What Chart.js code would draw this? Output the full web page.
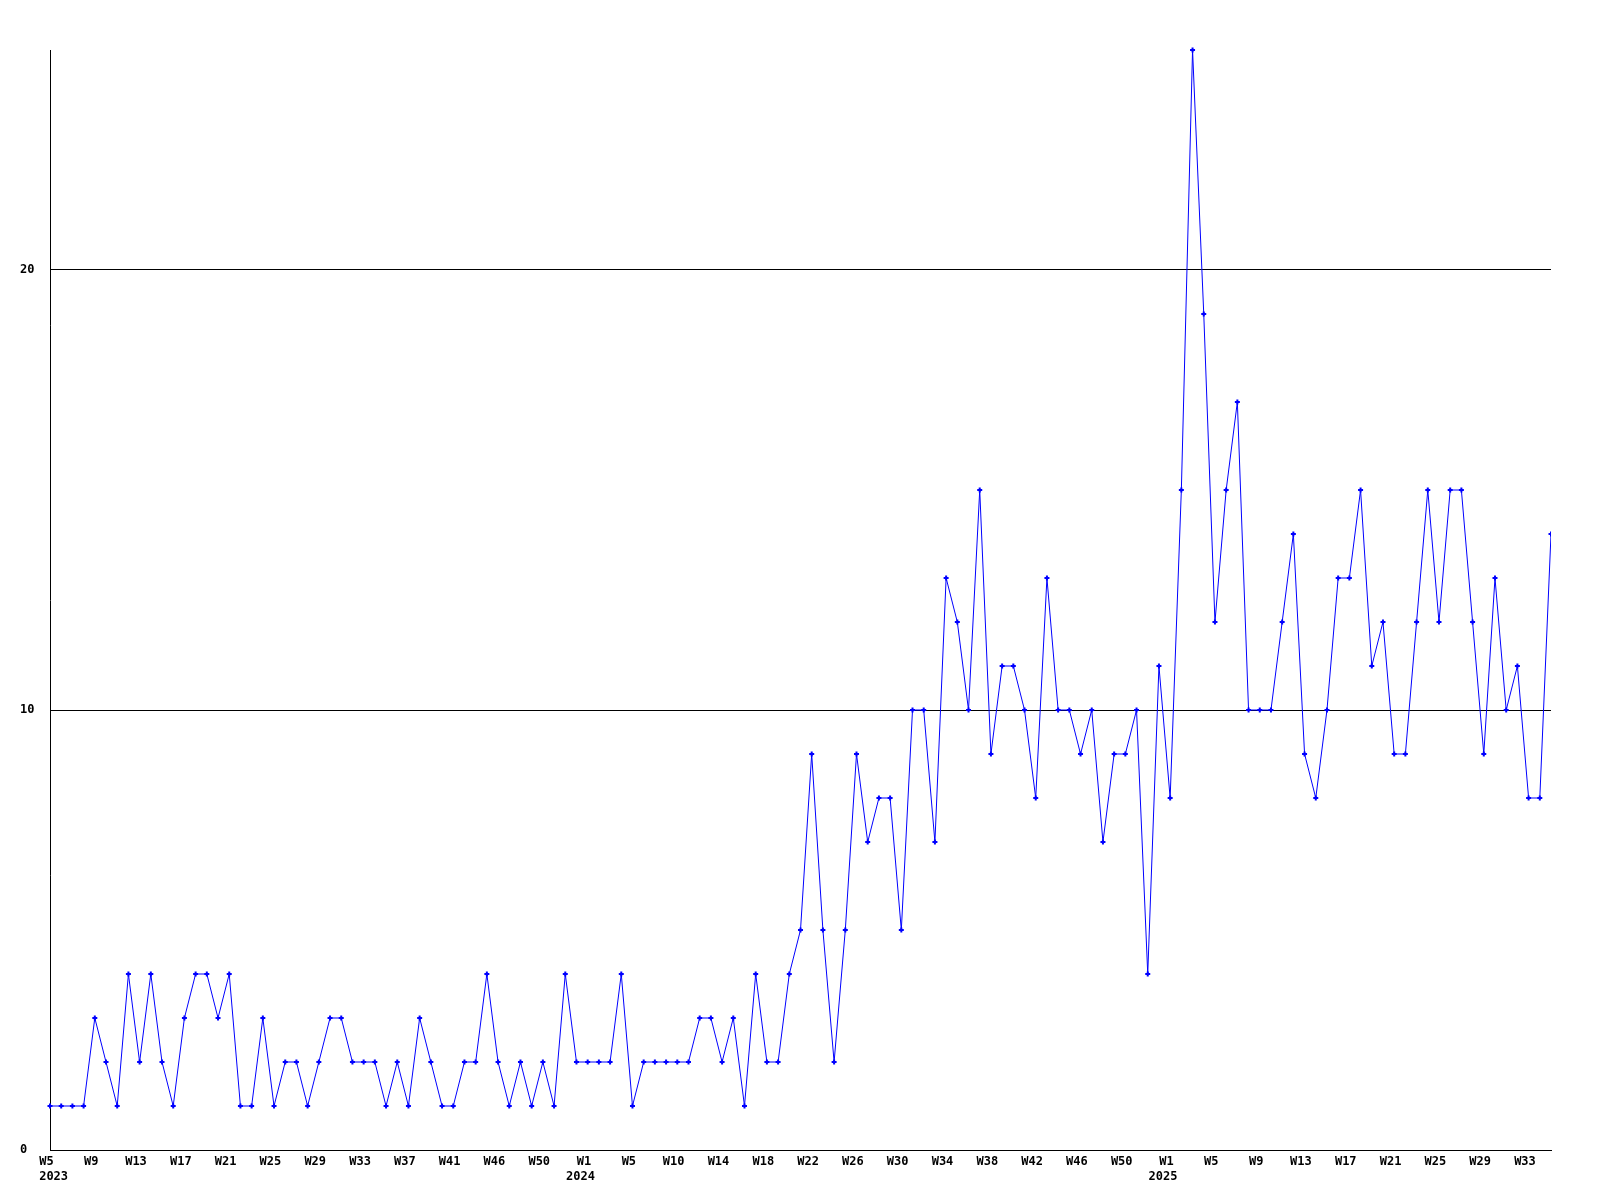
<!DOCTYPE html>
<html>
<head>
<meta charset="utf-8">
<script src="https://cdn.jsdelivr.net/npm/chart.js@4/dist/chart.umd.min.js"></script>
<style>
  html, body { margin: 0; padding: 0; background: #ffffff; }
  #weekChart { display: block; }
</style>
</head>
<body>
<canvas id="weekChart" width="1600" height="1200"></canvas>
<script>
// weekly counts, 2023 W5 .. 2025 W35
const counts2023 = [1, 1, 1, 1, 3, 2, 1, 4, 2, 4, 2, 1, 3, 4, 4, 3, 4, 1, 1, 3,
  1, 2, 2, 1, 2, 3, 3, 2, 2, 2, 1, 2, 1, 3, 2, 1, 1, 2, 2, 4,
  2, 1, 2, 1, 2, 1, 4, 2];
const counts2024 = [2, 2, 2, 4, 1, 2, 2, 2, 2, 2, 3, 3, 2, 3, 1, 4, 2, 2, 4, 5,
  9, 5, 2, 5, 9, 7, 8, 8, 5, 10, 10, 7, 13, 12, 10, 15, 9, 11, 11, 10,
  8, 13, 10, 10, 9, 10, 7, 9, 9, 10, 4, 11];
const counts2025 = [8, 15, 25, 19, 12, 15, 17, 10, 10, 10, 12, 14, 9, 8, 10, 13, 13, 15, 11, 12,
  9, 9, 12, 15, 12, 15, 15, 12, 9, 13, 10, 11, 8, 8, 14];

// labels shown on the x axis (one on every 4th week)
const tickLabels = ['W5', 'W9', 'W13', 'W17', 'W21', 'W25', 'W29', 'W33', 'W37', 'W41', 'W46', 'W50',
  'W1', 'W5', 'W10', 'W14', 'W18', 'W22', 'W26', 'W30', 'W34', 'W38', 'W42', 'W46', 'W50',
  'W1', 'W5', 'W9', 'W13', 'W17', 'W21', 'W25', 'W29', 'W33'];
const tickYears = { 0: ' 2023', 12: '2024  ', 25: '2025  ' };
const tickEvery = 4;
const yTicks = [0, 10, 20];

const values = [...counts2023, ...counts2024, ...counts2025];

const labels = values.map((v, i) => {
  if (i % tickEvery !== 0) return '';
  const k = i / tickEvery;
  const week = tickLabels[k] + ' ';
  return tickYears[k] ? [week, tickYears[k]] : week;
});

const tickFont = { family: '"DejaVu Sans Mono", monospace', size: 12, weight: 'bold', lineHeight: '15px' };

new Chart(document.getElementById('weekChart'), {
  type: 'line',
  data: {
    labels: labels,
    datasets: [
      {
        data: values,
        borderColor: '#0000ff',
        backgroundColor: '#0000ff',
        borderWidth: 1,
        pointStyle: 'cross',
        pointRadius: 2.5,
        pointBorderWidth: 2,
        pointBorderColor: '#0000ff',
        tension: 0,
        fill: false,
        clip: { left: false, top: false, right: 0, bottom: false }
      }
    ]
  },
  options: {
    responsive: false,
    animation: false,
    devicePixelRatio: 1,
    layout: { padding: { top: 50, right: 49, left: 20, bottom: 0 } },
    plugins: {
      legend: { display: false },
      tooltip: { enabled: false }
    },
    scales: {
      x: {
        type: 'category',
        offset: false,
        grid: { display: false, drawTicks: false },
        border: { display: true, color: '#000000', width: 1 },
        ticks: {
          autoSkip: false,
          maxRotation: 0,
          minRotation: 0,
          padding: 4,
          color: '#000000',
          font: tickFont
        },
        afterFit: (scale) => { scale.height = 50; }
      },
      y: {
        min: 0,
        max: 25,
        grid: { color: '#000000', lineWidth: 1, drawTicks: false },
        border: { display: true, color: '#000000', width: 1 },
        ticks: {
          crossAlign: 'far',
          color: '#000000',
          font: tickFont
        },
        afterBuildTicks: (scale) => { scale.ticks = yTicks.map(v => ({ value: v })); },
        afterFit: (scale) => { scale.width = 30; }
      }
    }
  }
});
</script>
</body>
</html>
